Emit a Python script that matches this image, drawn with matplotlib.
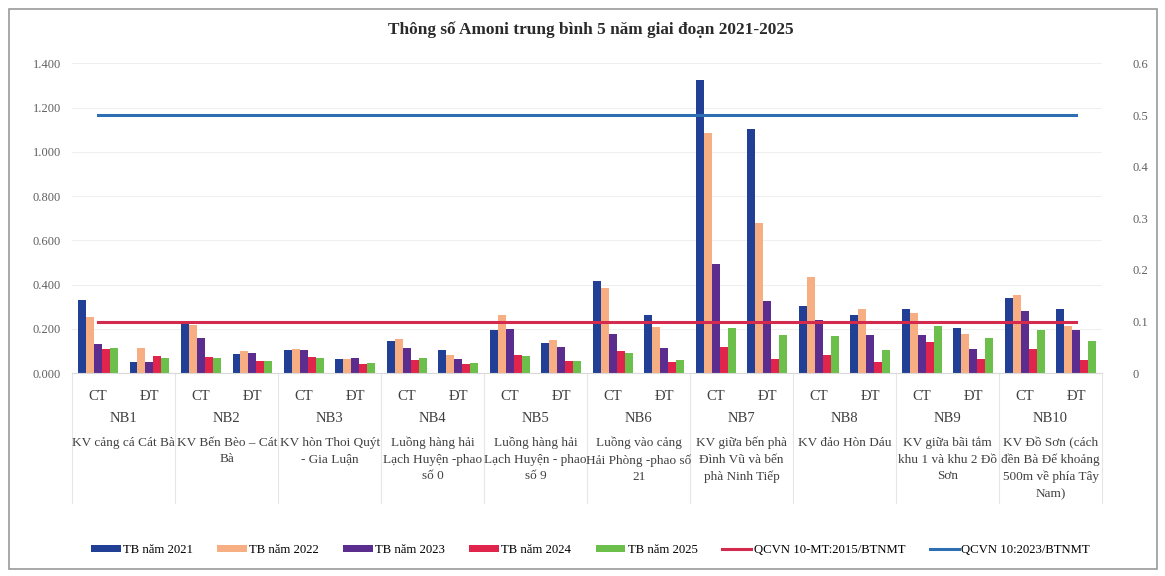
import numpy as np
import matplotlib.pyplot as plt
from matplotlib.patches import Rectangle
from matplotlib.transforms import blended_transform_factory

plt.rcParams['font.family'] = ['Liberation Serif', 'DejaVu Serif']

# Trạm quan trắc: mỗi trạm có 2 tầng (CT, ĐT)
stations = ["NB1", "NB2", "NB3", "NB4", "NB5", "NB6", "NB7", "NB8", "NB9", "NB10"]
locations = [
    "KV cảng cá Cát Bà",
    "KV Bến Bèo – Cát\nBà",
    "KV hòn Thoi Quýt\n- Gia Luận",
    "Luồng hàng hải\nLạch Huyện -phao\nsố 0",
    "Luồng hàng hải\nLạch Huyện - phao\nsố 9",
    "Luồng vào cảng\nHải Phòng -phao số\n21",
    "KV giữa bến phà\nĐình Vũ và bến\nphà Ninh Tiếp",
    "KV đảo Hòn Dáu",
    "KV giữa bãi tắm\nkhu 1 và khu 2 Đồ\nSơn",
    "KV Đồ Sơn (cách\nđền Bà Đế khoảng\n500m về phía Tây\nNam)",
]
layers = ["CT", "ĐT"]

# Amoni trung bình theo năm (CT, ĐT xen kẽ cho từng trạm)
tb_2021 = [0.330, 0.051, 0.224, 0.089, 0.104, 0.066, 0.145, 0.104, 0.197, 0.137,
           0.417, 0.265, 1.323, 1.105, 0.303, 0.265, 0.289, 0.205, 0.342, 0.289]
tb_2022 = [0.254, 0.114, 0.220, 0.099, 0.111, 0.066, 0.155, 0.081, 0.265, 0.152,
           0.387, 0.210, 1.085, 0.679, 0.435, 0.289, 0.274, 0.179, 0.352, 0.215]
tb_2023 = [0.134, 0.051, 0.157, 0.092, 0.104, 0.071, 0.114, 0.066, 0.200, 0.119,
           0.179, 0.116, 0.495, 0.327, 0.242, 0.175, 0.172, 0.111, 0.281, 0.197]
tb_2024 = [0.110, 0.078, 0.074, 0.056, 0.074, 0.044, 0.062, 0.044, 0.084, 0.056,
           0.099, 0.051, 0.119, 0.066, 0.081, 0.051, 0.139, 0.066, 0.111, 0.059]
tb_2025 = [0.114, 0.071, 0.067, 0.056, 0.067, 0.048, 0.071, 0.048, 0.077, 0.056,
           0.092, 0.059, 0.205, 0.172, 0.167, 0.107, 0.215, 0.157, 0.197, 0.146]

# Quy chuẩn (trục phụ)
qcvn_2015 = 0.1
qcvn_2023 = 0.5

left_ticks = [0.0, 0.2, 0.4, 0.6, 0.8, 1.0, 1.2, 1.4]
left_labels = ["0.000", "0.200", "0.400", "0.600", "0.800", "1.000", "1.200", "1.400"]
right_ticks = [0, 0.1, 0.2, 0.3, 0.4, 0.5, 0.6]
right_labels = ["0", "0.1", "0.2", "0.3", "0.4", "0.5", "0.6"]

series = [
    ("TB năm 2021", tb_2021, "#213f94"),
    ("TB năm 2022", tb_2022, "#f7ae83"),
    ("TB năm 2023", tb_2023, "#5b2d8e"),
    ("TB năm 2024", tb_2024, "#e0244c"),
    ("TB năm 2025", tb_2025, "#6cbf4a"),
]

fig = plt.figure(figsize=(11.65, 5.76), dpi=100)
ax = fig.add_axes([0.062, 0.352, 0.884, 0.538])

n = len(tb_2021)
x = np.arange(n)
bw = 0.155
for i, (name, vals, col) in enumerate(series):
    ax.bar(x + (i - 2) * bw, vals, width=bw, color=col, label=name, zorder=2)

ax.set_xlim(-0.5, n - 0.5)
ax.set_ylim(0, 1.4)
ax.set_yticks(left_ticks)
ax.set_yticklabels(left_labels)
ax.grid(axis='y', color='#efefef', linewidth=0.8, zorder=0)
ax.set_xticks(x)
ax.set_xticklabels([layers[i % 2] for i in range(n)], fontsize=10.5, color='#404040')
ax.tick_params(axis='x', length=0, pad=12)
ax.tick_params(axis='y', length=0, labelsize=9, labelcolor='#606060', pad=8)
for s in ax.spines.values():
    s.set_visible(False)
ax.spines['bottom'].set_visible(True)
ax.spines['bottom'].set_color('#d9d9d9')

ax2 = ax.twinx()
ax2.set_ylim(0, 0.6)
ax2.set_yticks(right_ticks)
ax2.set_yticklabels(right_labels)
ax2.tick_params(axis='y', length=0, labelsize=9, labelcolor='#606060', pad=22)
for s in ax2.spines.values():
    s.set_visible(False)
ax2.plot(x, [qcvn_2015] * n, color='#d42a4e', linewidth=2.2, label="QCVN 10-MT:2015/BTNMT", zorder=3)
ax2.plot(x, [qcvn_2023] * n, color='#2e6fb4', linewidth=2.2, label="QCVN 10:2023/BTNMT", zorder=3)

# Nhãn trạm và vị trí bên dưới trục
tr = blended_transform_factory(ax.transData, ax.transAxes)
for k, (st, loc) in enumerate(zip(stations, locations)):
    cx = 2 * k + 0.5
    ax.text(cx, -0.145, st, transform=tr, ha='center', va='center', fontsize=10.5, color='#404040')
    ax.text(cx, -0.205, loc, transform=tr, ha='center', va='top', fontsize=9.5,
            color='#404040', linespacing=1.5)
for b in np.arange(-0.5, n, 2):
    ax.plot([b, b], [0, -0.42], transform=tr, color='#e6e6e6', linewidth=0.8, clip_on=False)

fig.text(0.507, 0.948, "Thông số Amoni trung bình 5 năm giai đoạn 2021-2025",
         ha='center', va='center', fontsize=12.4, fontweight='bold', color='#2a2a2a')

h1, l1 = ax.get_legend_handles_labels()
h2, l2 = ax2.get_legend_handles_labels()
fig.legend(h1 + h2, l1 + l2, loc='center', bbox_to_anchor=(0.507, 0.045), ncol=7,
           frameon=False, fontsize=9.2, handlelength=2.3, handleheight=0.5,
           columnspacing=1.9, handletextpad=0.2)

fig.patches.append(Rectangle((0.008, 0.012), 0.985, 0.972, transform=fig.transFigure,
                             fill=False, edgecolor='#9a9a9a', linewidth=1.2))

fig.savefig("out.png", dpi=100)
